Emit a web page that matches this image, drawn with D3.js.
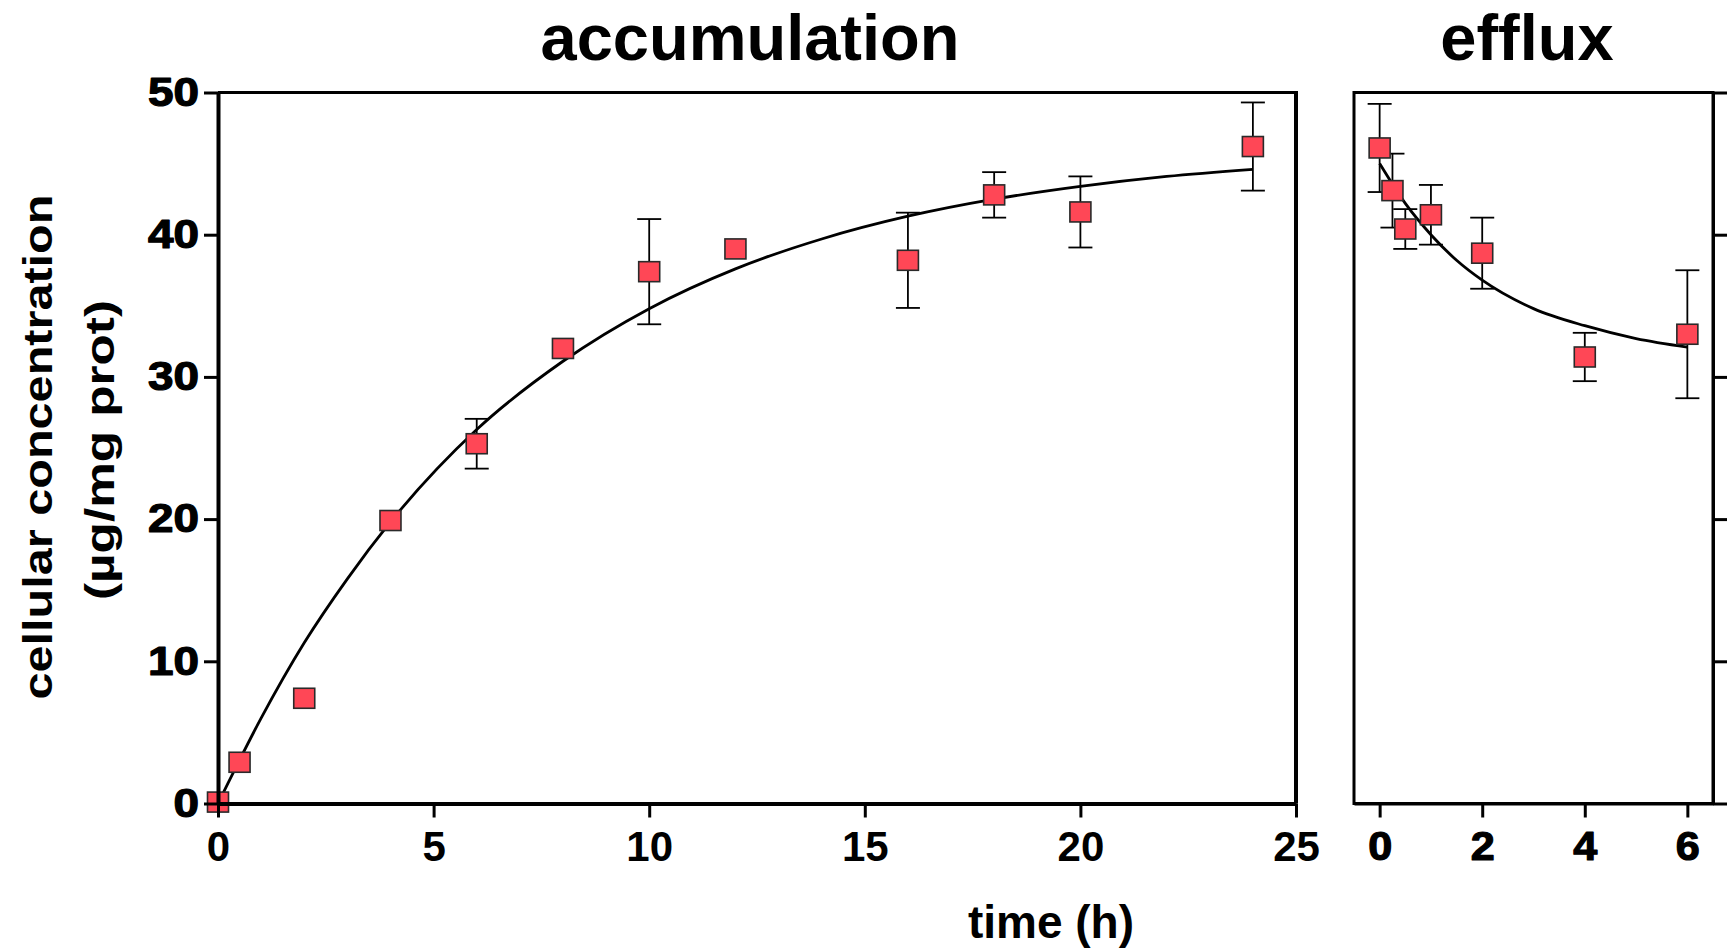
<!DOCTYPE html>
<html>
<head>
<meta charset="utf-8">
<script src="https://cdn.jsdelivr.net/npm/d3@7"></script>
<style>
  body { margin: 0; background: #fff; }
  svg { display: block; font-family: "Liberation Sans", Arial, sans-serif; font-weight: bold; }
</style>
</head>
<body>
<svg id="chart" width="1730" height="949"></svg>
<script>
// accumulation data (mean ± SD)
var accTime = [0, 0.5, 2, 4, 6, 8, 10, 12, 16, 18, 20, 24];
var accMean = [0.1, 2.9, 7.4, 19.9, 25.3, 32.0, 37.4, 39.0, 38.2, 42.8, 41.6, 46.2];
var accSd   = [0, 0, 0, 0, 1.75, 0, 3.7, 0, 3.35, 1.6, 2.5, 3.1];

// fitted curve
var accFitTime = [0, 1, 2, 3, 4, 6, 8, 10, 12, 14, 16, 18, 20, 22, 24];
var accFitVal  = [0, 6.0, 11.3, 15.8, 19.8, 26.3, 31.1, 34.8, 37.6, 39.7, 41.3, 42.5, 43.4, 44.1, 44.6];

// efflux data
var effTime = [0, 0.25, 0.5, 1, 2, 4, 6];
var effMean = [46.1, 43.1, 40.4, 41.4, 38.7, 31.4, 33.0];
var effSd   = [3.1, 2.6, 1.4, 2.1, 2.5, 1.7, 4.5];

var effFitTime = [0, 0.5, 1, 1.5, 2, 3, 4, 5, 6];
var effFitVal  = [45.0, 42.2, 40.0, 38.2, 36.8, 34.8, 33.6, 32.7, 32.1];

var yTicks = [0, 10, 20, 30, 40, 50];
var accTicks = [0, 5, 10, 15, 20, 25];
var effTicks = [0, 2, 4, 6];

var svg = d3.select("#chart");

var y = d3.scaleLinear().domain([0, 50]).range([803.5, 92.5]);
var xAcc = d3.scaleLinear().domain([0, 25]).range([218, 1296]);
var xEff = d3.scaleLinear().domain([-0.5, 6.5]).range([1354, 1713]);

function panel(x, times, means, sds, fitT, fitV) {
    var g = svg.append("g");
    var pts = times.map(function(t, i) { return {t: t, m: means[i], s: sds[i]}; });

    // error bars
    var eb = g.selectAll(".eb").data(pts.filter(function(d) { return d.s > 0; }))
        .enter().append("g").attr("class", "eb")
        .attr("stroke", "#000").attr("stroke-width", 1.8);
    eb.append("line")
        .attr("x1", function(d) { return x(d.t); }).attr("x2", function(d) { return x(d.t); })
        .attr("y1", function(d) { return y(d.m + d.s); }).attr("y2", function(d) { return y(d.m - d.s); });
    eb.append("line")
        .attr("x1", function(d) { return x(d.t) - 12; }).attr("x2", function(d) { return x(d.t) + 12; })
        .attr("y1", function(d) { return y(d.m + d.s); }).attr("y2", function(d) { return y(d.m + d.s); });
    eb.append("line")
        .attr("x1", function(d) { return x(d.t) - 12; }).attr("x2", function(d) { return x(d.t) + 12; })
        .attr("y1", function(d) { return y(d.m - d.s); }).attr("y2", function(d) { return y(d.m - d.s); });

    // fit line
    var line = d3.line()
        .x(function(d, i) { return x(fitT[i]); })
        .y(function(d) { return y(d); })
        .curve(d3.curveMonotoneX);
    g.append("path")
        .datum(fitV)
        .attr("d", line)
        .attr("fill", "none")
        .attr("stroke", "#000")
        .attr("stroke-width", 2.8);

    // markers
    g.selectAll("rect.pt").data(pts).enter().append("rect")
        .attr("class", "pt")
        .attr("x", function(d) { return x(d.t) - 10.5; })
        .attr("y", function(d) { return y(d.m) - 10; })
        .attr("width", 21).attr("height", 20)
        .attr("fill", "#ff4756")
        .attr("stroke", "#2a2a2a")
        .attr("stroke-width", 1.6);
}

panel(xAcc, accTime, accMean, accSd, accFitTime, accFitVal);
panel(xEff, effTime, effMean, effSd, effFitTime, effFitVal);

// frames
var yTop = y(50), yBot = y(0);
svg.append("line").attr("x1", xAcc(0)).attr("x2", xAcc(25)).attr("y1", yTop).attr("y2", yTop)
    .attr("stroke", "#000").attr("stroke-width", 3);
svg.append("line").attr("x1", xAcc(25)).attr("x2", xAcc(25)).attr("y1", yTop - 1.5).attr("y2", yBot)
    .attr("stroke", "#000").attr("stroke-width", 4);
svg.append("rect").attr("x", xEff(-0.5)).attr("y", yTop)
    .attr("width", xEff(6.5) - xEff(-0.5)).attr("height", yBot - yTop)
    .attr("fill", "none").attr("stroke", "#000").attr("stroke-width", 3);

function styleAxis(sel, w) {
    sel.select(".domain").attr("stroke-width", w);
    sel.selectAll(".tick line").attr("stroke-width", 3);
    sel.selectAll("text").attr("fill", "#000").style("font-family", "'Liberation Sans', Arial, sans-serif")
        .style("font-weight", "bold");
}

// heavier digits, like the original's black face
function heavy(sel) {
    sel.attr("stroke", "#000").attr("stroke-width", 1.2).attr("stroke-linejoin", "round");
}

// left panel axes
var ya = svg.append("g").attr("transform", "translate(" + xAcc(0) + ",0)")
    .call(d3.axisLeft(y).tickValues(yTicks).tickSize(14).tickSizeOuter(0).tickPadding(5));
styleAxis(ya, 4);
ya.selectAll("text").style("font-size", "40px")
    .attr("textLength", function(d) { return String(d).length * 25.5; })
    .attr("lengthAdjust", "spacingAndGlyphs")
    .call(heavy);

var xa = svg.append("g").attr("transform", "translate(0," + yBot + ")")
    .call(d3.axisBottom(xAcc).tickValues(accTicks).tickSize(14).tickSizeOuter(0).tickPadding(14));
styleAxis(xa, 4);
xa.selectAll("text").style("font-size", "42px");

// right panel axes
var xe = svg.append("g").attr("transform", "translate(0," + yBot + ")")
    .call(d3.axisBottom(xEff).tickValues(effTicks).tickFormat(d3.format("d"))
        .tickSize(14).tickSizeOuter(0).tickPadding(14));
styleAxis(xe, 3);
xe.selectAll("text").style("font-size", "40px")
    .attr("textLength", function(d) { return String(d).length * 24; })
    .attr("lengthAdjust", "spacingAndGlyphs")
    .call(heavy);

var ye = svg.append("g").attr("transform", "translate(" + xEff(6.5) + ",0)")
    .call(d3.axisRight(y).tickValues(yTicks).tickSize(14).tickSizeOuter(0).tickFormat(""));
styleAxis(ye, 3);

// titles
svg.append("text").attr("x", 750).attr("y", 60).attr("text-anchor", "middle")
    .style("font-size", "65px").text("accumulation");
svg.append("text").attr("x", 1527).attr("y", 60).attr("text-anchor", "middle")
    .style("font-size", "65px").text("efflux");

// axis titles
svg.append("text").attr("transform", "translate(52,447) rotate(-90)").attr("text-anchor", "middle")
    .style("font-size", "40px").attr("textLength", 505).attr("lengthAdjust", "spacingAndGlyphs")
    .text("cellular concentration");
svg.append("text").attr("transform", "translate(114,450) rotate(-90)").attr("text-anchor", "middle")
    .style("font-size", "40px").attr("textLength", 300).attr("lengthAdjust", "spacingAndGlyphs")
    .text("(µg/mg prot)");
svg.append("text").attr("x", 1051).attr("y", 938).attr("text-anchor", "middle")
    .style("font-size", "46px").text("time (h)");
</script>
</body>
</html>
